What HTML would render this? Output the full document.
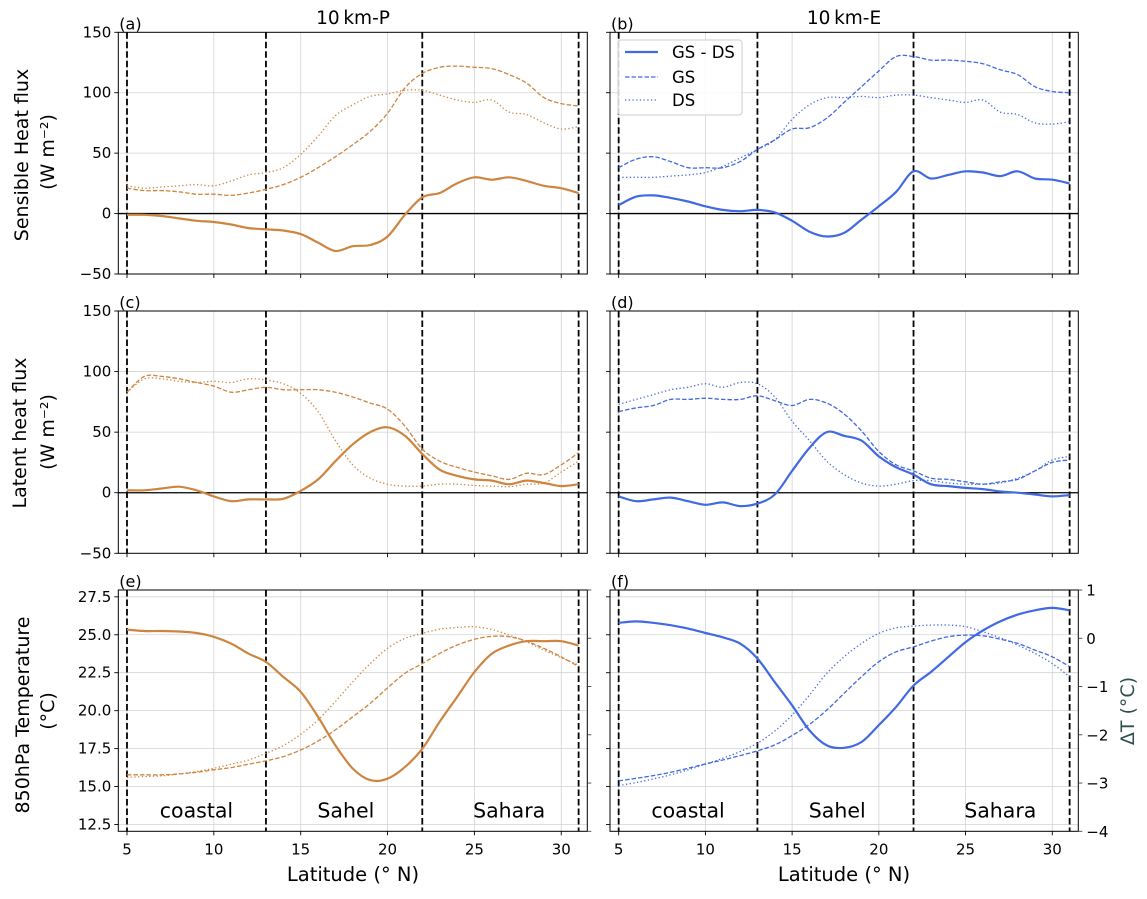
<!DOCTYPE html>
<html><head><meta charset="utf-8"><style>
html,body{margin:0;padding:0;background:#fff;}
svg text{font-family:"DejaVu Sans","Liberation Sans",sans-serif;fill:#000;}
</style></head><body>
<svg id="fig" width="1147" height="894" viewBox="0 0 1147 894" xmlns="http://www.w3.org/2000/svg"></svg>
<script>
const lat = [5,6,7,8,9,10,11,12,13,14,15,16,17,18,19,20,21,22,23,24,25,26,27,28,29,30,31];
// (a) sensible heat 10km-P
const aGS = [21,19,19,18,16,16,15,17,20,24,30,38,47,57,68,83,104,116,121,122,121,120,115,108,96,91,89];
const aDS = [23,21,22,23,24,23,27,32,34,38,49,64,81,90,97,99,102,102,98,94,92,94,84,82,75,70,72];
const aDiff = [-1,-1,-2,-4,-6,-7,-9,-12,-13,-14,-17,-24,-31,-27,-26,-19,-1,13.5,17,25,30,28,30,27,23,21,17];
// (b) sensible heat 10km-E
const bGS = [38,45,47,43,38,38,38,43,53,61,70,71,79,92,105,118,130,130,127,127,126,124,119,115,105,101,100];
const bDS = [30,30,30,31,32,34,39,46,53,61,78,90,96,96,97,96,98,98,96,94,92,94,84,82,75,74,76];
const bDiff = [7,14,15,13,10,6,3,2,3,1,-6,-15,-19,-16,-5,6,18,35,29,32,35,34,31,35,29,28,25];
// (c) latent heat 10km-P
const cGS = [83,96,96,94,91,88,83,85,87,85,85,85,83,79,74,69,55,36,26,21,17,14,11,16,15,23,33];
const cDS = [83,94,94,92,91,92,91,94,93,90,82,67,43,23,12,7,5.5,5.5,7,7,6,5.5,5,7,8,17,26];
const cDiff = [2,2,3.5,5,2,-3,-7,-5.5,-5.5,-5,1.5,11,26,40,50,54,47,32,19,14,11,10,7,10,8,5.5,7];
// (d) latent heat 10km-E
const dGS = [67,70,72,77,77,78,77,77,80,76,72,77,74,65,51,34,23,18,12,11,9,7,9,11,18,25,27];
const dDS = [73,77,81,85,87,90,87,91,90,79,59,43,26,15,8,5.5,7,10,10,8,7,7,8,12,18,27,30];
const dDiff = [-3,-7,-5.5,-4,-7,-10,-8,-11,-9,-1.5,18,37,50,47,43,30,21,15,7,5.5,4,3,1,0,-1.5,-3,-2];
// (e) 850hPa temperature 10km-P
const eGS = [15.77,15.77,15.77,15.83,15.94,16.1,16.25,16.47,16.69,16.97,17.41,18.0,18.73,19.6,20.48,21.5,22.46,23.1,23.77,24.32,24.7,24.9,24.87,24.58,24.1,23.55,22.9];
const eDS = [15.6,15.66,15.7,15.83,15.99,16.2,16.47,16.75,17.19,17.7,18.44,19.39,20.6,21.9,23.1,24.1,24.76,25.09,25.37,25.48,25.53,25.35,24.98,24.54,23.99,23.49,23.0];
const eDiff = [0.18,0.15,0.15,0.14,0.11,0.03,-0.11,-0.32,-0.49,-0.8,-1.11,-1.63,-2.22,-2.7,-2.94,-2.91,-2.67,-2.29,-1.73,-1.22,-0.7,-0.32,-0.15,-0.06,-0.06,-0.06,-0.15];
// (f) 850hPa temperature 10km-E
const fGS = [15.37,15.54,15.72,15.94,16.2,16.49,16.75,17.04,17.35,17.74,18.36,19.1,20.04,21.14,22.24,23.22,23.88,24.2,24.58,24.87,24.98,24.93,24.71,24.43,23.99,23.55,22.9];
const fDS = [15.06,15.26,15.5,15.77,16.1,16.47,16.86,17.3,17.85,18.66,19.71,21.03,22.46,23.55,24.43,25.09,25.46,25.57,25.64,25.64,25.53,25.2,24.8,24.32,23.77,23.1,22.24];
const fDiff = [0.32,0.35,0.32,0.27,0.2,0.11,0.02,-0.11,-0.42,-0.91,-1.39,-1.91,-2.22,-2.27,-2.15,-1.8,-1.42,-0.98,-0.7,-0.39,-0.08,0.16,0.35,0.49,0.58,0.63,0.58];

const xTicks = [5,10,15,20,25,30];
const fluxTicks = [-50,0,50,100,150];
const tempTicks = [12.5,15.0,17.5,20.0,22.5,25.0,27.5];
const dTicks = [-4,-3,-2,-1,0,1];
const regionLines = [5,13,22,31];
const regionNames = ["coastal","Sahel","Sahara"];
const regionPos = [9,17.6,27];

const NS="http://www.w3.org/2000/svg";
const svg=document.getElementById('fig');
function mk(tag,attrs,parent){const e=document.createElementNS(NS,tag);for(const k in attrs)e.setAttribute(k,attrs[k]);(parent||svg).appendChild(e);return e;}
function txt(s,attrs,parent){const e=mk('text',attrs,parent);e.textContent=s;return e;}

const cols=[[118.3,587.3],[610,1078.3]];
const rows=[[32.3,274],[311,553.3],[590,831.3]];
const ORANGE="#cd853f", BLUE="#4169e1";
const TICK=15;

function makePanel(ci,ri,ymin,ymax,name){
  const [x0,x1]=cols[ci],[y0,y1]=rows[ri];
  const g=mk('g',{});
  
  
  const sx=v=>x0+(v-4.5)/27*(x1-x0);
  const sy=v=>y1-(v-ymin)/(ymax-ymin)*(y1-y0);
  return {g,sx,sy,x0,x1,y0,y1};
}
function grid(p,yt){
  const gg=mk('g',{},p.g);
  
  
  xTicks.forEach(t=>mk('line',{x1:p.sx(t),x2:p.sx(t),y1:p.y0,y2:p.y1,stroke:'#d3d3d3','stroke-width':0.8},gg));
  yt.forEach(t=>{const y=p.sy(t);if(y>p.y0+0.5&&y<p.y1-0.5)mk('line',{x1:p.x0,x2:p.x1,y1:y,y2:y,stroke:'#d3d3d3','stroke-width':0.8},gg);});
}
function smoothPath(P){
  let d='M'+P[0][0].toFixed(1)+','+P[0][1].toFixed(1);
  for(let i=0;i<P.length-1;i++){
    const p0=P[i-1]||P[i],p1=P[i],p2=P[i+1],p3=P[i+2]||P[i+1];
    const c1=[p1[0]+(p2[0]-p0[0])/6,p1[1]+(p2[1]-p0[1])/6];
    const c2=[p2[0]-(p3[0]-p1[0])/6,p2[1]-(p3[1]-p1[1])/6];
    d+=' C'+c1[0].toFixed(1)+','+c1[1].toFixed(1)+' '+c2[0].toFixed(1)+','+c2[1].toFixed(1)+' '+p2[0].toFixed(1)+','+p2[1].toFixed(1);
  }
  return d;
}
function line(p,xs,ys,sy,color,w,dash,name){
  const P=xs.map((x,i)=>[p.sx(x),sy(ys[i])]);
  const e=mk('path',{d:smoothPath(P),fill:'none',stroke:color,'stroke-width':w,'stroke-linejoin':'round'},p.g);
  if(dash)e.setAttribute('stroke-dasharray',dash);
  
  
}
function vlines(p){
  regionLines.forEach(r=>{const e=mk('line',{x1:p.sx(r),x2:p.sx(r),y1:p.y0,y2:p.y1,stroke:'#000','stroke-width':1.8,'stroke-dasharray':'6.5,3'},p.g);
  
  });
}
function frame(p,yt,showY,showX){
  const e=mk('rect',{x:p.x0,y:p.y0,width:p.x1-p.x0,height:p.y1-p.y0,fill:'none',stroke:'#000','stroke-width':1},p.g);
  
  
  yt.forEach(t=>{const y=p.sy(t);mk('line',{x1:p.x0-4,x2:p.x0,y1:y,y2:y,stroke:'#000','stroke-width':0.9},p.g);
    if(showY){const l=txt(String(showY(t)),{x:p.x0-7,y:y+5,'font-size':TICK,'text-anchor':'end'},p.g);
      
      }});
  xTicks.forEach(t=>{const x=p.sx(t);mk('line',{x1:x,x2:x,y1:p.y1,y2:p.y1+4,stroke:'#000','stroke-width':0.9},p.g);
    if(showX){const l=txt(String(t),{x:x,y:p.y1+23,'font-size':TICK,'text-anchor':'middle'},p.g);
      
      }});
}
function plabel(p,s){const l=txt(s,{x:p.x0+1,y:p.y0-3,'font-size':16},p.g);
  
  }

function fluxPanel(ci,ri,GS,DS,D,color,name,lab){
  const p=makePanel(ci,ri,-50,150,name);
  grid(p,fluxTicks);
  mk('line',{x1:p.x0,x2:p.x1,y1:p.sy(0),y2:p.sy(0),stroke:'#000','stroke-width':1.3},p.g);
  vlines(p);
  line(p,lat,GS,p.sy,color,1.3,'4.5,2','gs-line');
  line(p,lat,DS,p.sy,color,1.3,'1.3,2.4','ds-line');
  line(p,lat,D,p.sy,color,2.2,null,'gs-minus-ds-line');
  frame(p,fluxTicks,ci===0?(t=>t===-50?'\u221250':t):null,false);
  plabel(p,lab);
  return p;
}
fluxPanel(0,0,aGS,aDS,aDiff,ORANGE,'panel-a','(a)');
fluxPanel(1,0,bGS,bDS,bDiff,BLUE,'panel-b','(b)');
fluxPanel(0,1,cGS,cDS,cDiff,ORANGE,'panel-c','(c)');
fluxPanel(1,1,dGS,dDS,dDiff,BLUE,'panel-d','(d)');

function tempPanel(ci,GS,DS,D,color,name,lab){
  const p=makePanel(ci,2,12.05,27.95,name);
  const sy2=v=>p.y1-(v+4)/5*(p.y1-p.y0);
  grid(p,tempTicks);
  vlines(p);
  line(p,lat,GS,p.sy,color,1.3,'4.5,2','gs-line');
  line(p,lat,DS,p.sy,color,1.3,'1.3,2.4','ds-line');
  line(p,lat,D,sy2,color,2.2,null,'gs-minus-ds-line');
  frame(p,tempTicks,ci===0?(t=>t.toFixed(1)):null,true);
  dTicks.forEach(t=>{const y=sy2(t);mk('line',{x1:p.x1,x2:p.x1+4,y1:y,y2:y,stroke:'#2f4f4f','stroke-width':0.9},p.g);
    if(ci===1){const l=txt(t<0?'\u2212'+(-t):String(t),{x:p.x1+8,y:y+5.5,'font-size':TICK},p.g);
      
      }});
  regionNames.forEach((n,i)=>{const l=txt(n,{x:p.sx(regionPos[i]),y:p.y1-14,'font-size':20.5,'text-anchor':'middle'},p.g);
    
    });
  plabel(p,lab);
}
tempPanel(0,eGS,eDS,eDiff,ORANGE,'panel-e','(e)');
tempPanel(1,fGS,fDS,fDiff,BLUE,'panel-f','(f)');

// legend
const lg=mk('g',{});


mk('rect',{x:618,y:40,width:124,height:75,rx:3,fill:'#fff','fill-opacity':0.85,stroke:'#ccc','stroke-width':1},lg);
[['GS - DS',null,2.2,52],['GS','4.5,2',1.3,77],['DS','1.3,2.4',1.3,100]].forEach(([s,d,w,y])=>{
  const l=mk('line',{x1:625,x2:658,y1:y,y2:y,stroke:BLUE,'stroke-width':w},lg);
  if(d)l.setAttribute('stroke-dasharray',d);
  const t=txt(s,{x:672,y:y+6,'font-size':16.5},lg);
  
  
});

function label(s,attrs,name){const t=txt(s,attrs);return t;}
label('10\u2009km-P',{x:353,y:24,'font-size':18.5,'text-anchor':'middle'},'title-left');
label('10\u2009km-E',{x:844,y:24,'font-size':18.5,'text-anchor':'middle'},'title-right');
label('Sensible Heat flux',{x:0,y:0,'font-size':19,'text-anchor':'middle',transform:'translate(28,155) rotate(-90)'},'y-axis-title-sensible');
label('(W m\u207B\u00B2)',{x:0,y:0,'font-size':19,'text-anchor':'middle',transform:'translate(54,152) rotate(-90)'},'y-axis-units-sensible');
label('Latent heat flux',{x:0,y:0,'font-size':19,'text-anchor':'middle',transform:'translate(26,433) rotate(-90)'},'y-axis-title-latent');
label('(W m\u207B\u00B2)',{x:0,y:0,'font-size':19,'text-anchor':'middle',transform:'translate(54,432) rotate(-90)'},'y-axis-units-latent');
label('850hPa Temperature',{x:0,y:0,'font-size':19,'text-anchor':'middle',transform:'translate(29,715) rotate(-90)'},'y-axis-title-temperature');
label('(\u00B0C)',{x:0,y:0,'font-size':19,'text-anchor':'middle',transform:'translate(54,711) rotate(-90)'},'y-axis-units-temperature');
const rt=label('\u0394T (\u00B0C)',{x:0,y:0,'font-size':19,'text-anchor':'middle',transform:'translate(1134,711) rotate(-90)'},'right-y-axis-title');
rt.style.fill='#2f4f4f';
label('Latitude (\u00B0 N)',{x:353,y:881,'font-size':19.5,'text-anchor':'middle'},'x-axis-title-left');
label('Latitude (\u00B0 N)',{x:844,y:881,'font-size':19.5,'text-anchor':'middle'},'x-axis-title-right');
</script>
</body></html>
